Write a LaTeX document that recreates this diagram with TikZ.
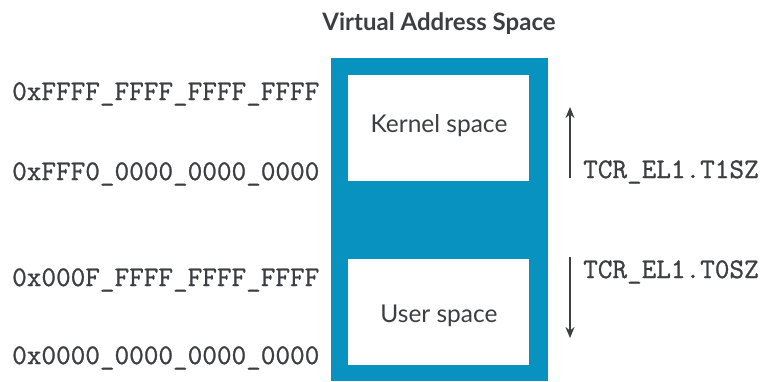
\documentclass[tikz,border=0pt]{standalone}
\usepackage{fontspec}
\setmainfont{Lato}
\setmonofont[FakeBold=1.0]{Latin Modern Mono}
\usetikzlibrary{arrows.meta}
\definecolor{armblue}{RGB}{8,146,192}
\definecolor{txt}{RGB}{60,62,66}
\tikzset{
  addr/.style={font=\fontsize{28.4}{28.4}\selectfont\ttfamily, text=txt, anchor=west, inner sep=0pt},
  reg/.style={font=\fontsize{28.4}{28.4}\selectfont\ttfamily, text=txt, anchor=west, inner sep=0pt},
  spacelabel/.style={font=\fontsize{24.5}{24.5}\selectfont, text=txt, inner sep=0pt},
  sizearrow/.style={draw=txt, line width=1.8pt, -{Stealth[length=11pt,width=9pt]}}
}
\begin{document}
\begin{tikzpicture}[x=1pt,y=-1pt]
\useasboundingbox (0,0) rectangle (762,381);
\node[font=\fontsize{24}{24}\selectfont\bfseries, text=txt] (title) at (439,24) {Virtual Address Space};
\fill[armblue] (331,58) rectangle (548,381);
\fill[white] (348,75) rectangle (529,181);
\fill[white] (348,259) rectangle (529,365);
\node[spacelabel] (kernel) at (439,126) {Kernel space};
\node[spacelabel] (user) at (439,316) {User space};
\node[addr] (a1) at (12,94) {0xFFFF\_FFFF\_FFFF\_FFFF};
\node[addr] (a2) at (12,174) {0xFFF0\_0000\_0000\_0000};
\node[addr] (a3) at (12,280) {0x000F\_FFFF\_FFFF\_FFFF};
\node[addr] (a4) at (12,358) {0x0000\_0000\_0000\_0000};
\coordinate (u0) at (570,178);
\coordinate (u1) at (570,107);
\coordinate (d0) at (570,257);
\coordinate (d1) at (570,338);
\draw[sizearrow] (u0) -- (u1);
\draw[sizearrow] (d0) -- (d1);
\node[reg] (t1) at (583,172) {TCR\_EL1.T1SZ};
\node[reg] (t0) at (583,272) {TCR\_EL1.T0SZ};
\end{tikzpicture}
\end{document}
